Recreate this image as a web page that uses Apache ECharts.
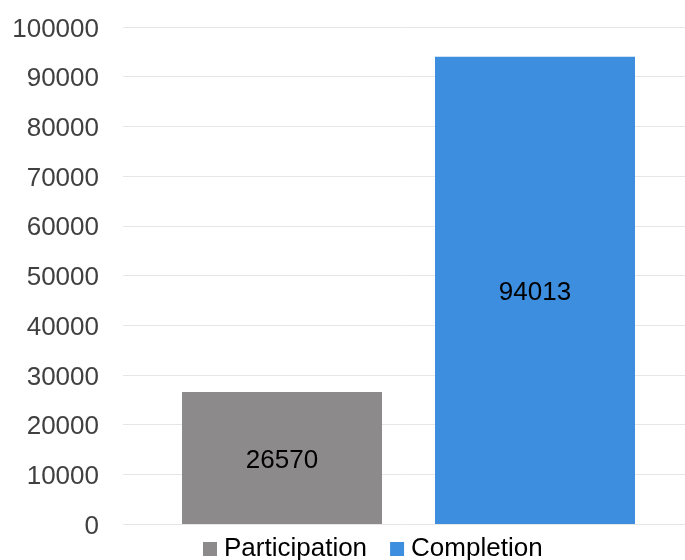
<!DOCTYPE html>
<html><head><meta charset="utf-8">
<script src="https://cdn.jsdelivr.net/npm/echarts@6/dist/echarts.min.js"></script>
<style>html,body{margin:0;padding:0;background:#fff}#c{width:685px;height:560px}</style>
</head><body><div id="c"></div>
<script>
const categories = [''];
const seriesNames = ['Participation', 'Completion'];
const participation = [26570];
const completion = [94013];
const yTicks = {min: 0, max: 100000, interval: 10000};

const chart = echarts.init(document.getElementById('c'), null, {renderer: 'canvas'});
const font = '"Liberation Sans", Arial, sans-serif';
chart.setOption({
  animation: false,
  grid: {left: 123, right: -9, top: 27, bottom: 36, containLabel: false, outerBoundsMode: 'none'},
  legend: {
    data: seriesNames, top: 536, left: 203, padding: 0,
    itemWidth: 14, itemHeight: 14, itemGap: 23,
    icon: 'rect',
    textStyle: {fontFamily: font, fontSize: 26, color: '#000', padding: [0, 0, 0, 2]}
  },
  xAxis: {
    type: 'category', data: categories,
    axisLine: {show: false}, axisTick: {show: false}, axisLabel: {show: false}
  },
  yAxis: {
    type: 'value', min: yTicks.min, max: yTicks.max, interval: yTicks.interval,
    axisLine: {show: false}, axisTick: {show: false},
    axisLabel: {fontFamily: font, fontSize: 26, color: '#404040', margin: 24,
                formatter: v => '{a|' + v + '}',
                rich: {a: {fontFamily: font, fontSize: 26, color: '#404040', padding: [5, 0, 0, 0]}}},
    splitLine: {lineStyle: {color: '#e6e6e6', width: 1}}
  },
  series: [
    {name: seriesNames[0], type: 'bar', data: participation, barWidth: 200, barGap: '26.5%',
     itemStyle: {color: '#8c8a8b'},
     label: {show: true, position: 'inside', offset: [0, 3], fontFamily: font, fontSize: 26, color: '#000'}},
    {name: seriesNames[1], type: 'bar', data: completion, barWidth: 200, barGap: '26.5%',
     itemStyle: {color: '#3d8ede'},
     label: {show: true, position: 'inside', offset: [0, 2], fontFamily: font, fontSize: 26, color: '#000'}}
  ]
});
</script></body></html>
